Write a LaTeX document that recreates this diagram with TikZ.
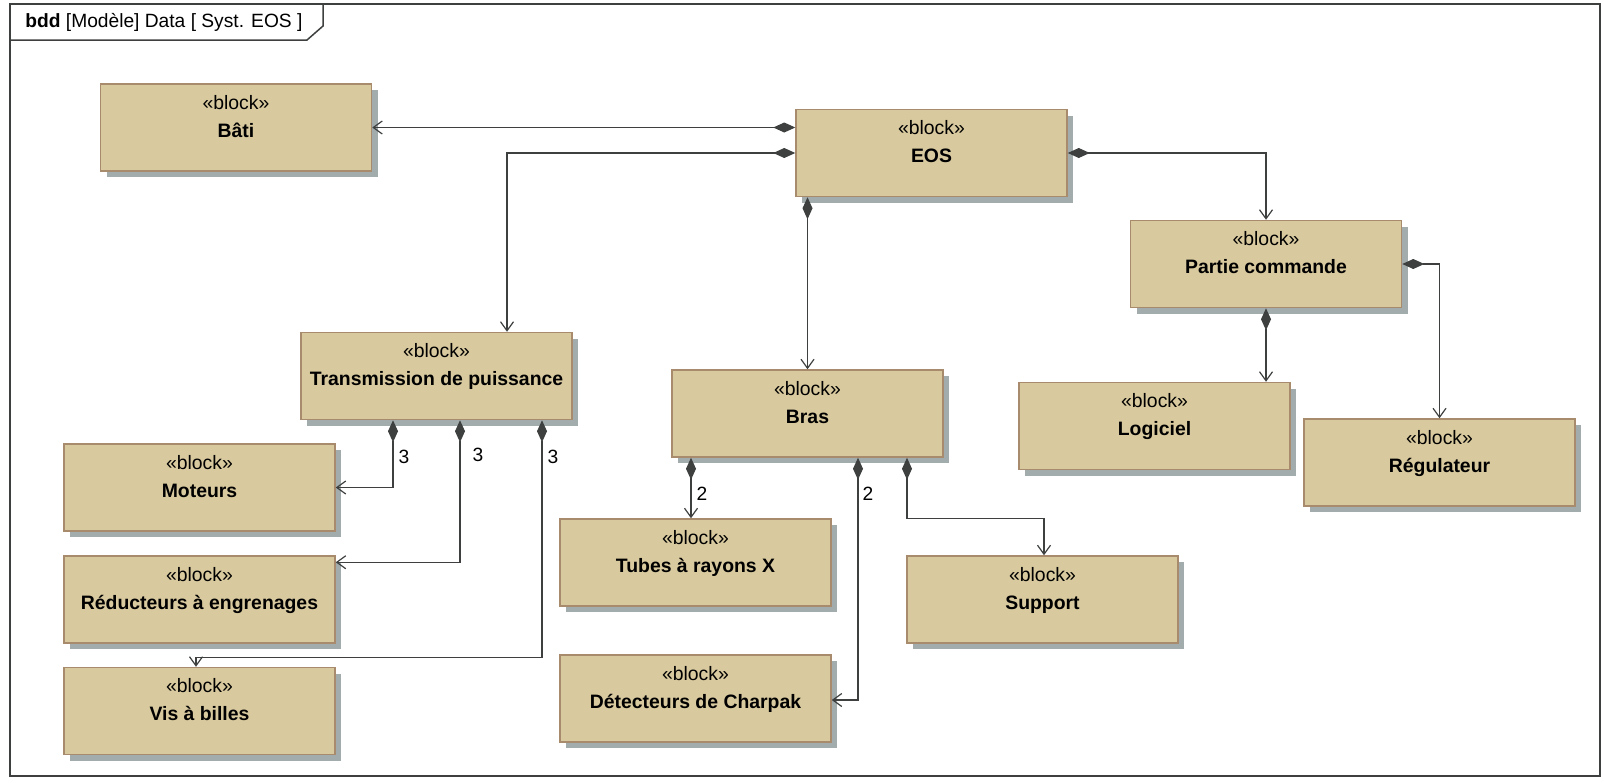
\documentclass[tikz,border=0pt]{standalone}
\usepackage{fontspec}
\setmainfont{Liberation Sans}
\usetikzlibrary{arrows.meta,calc,shadows}

\definecolor{blockfill}{RGB}{216,201,158}
\definecolor{blockline}{RGB}{168,138,108}
\definecolor{shadowgray}{RGB}{163,172,172}
\definecolor{linegray}{RGB}{62,64,64}

\newcommand{\blocktext}[1]{«block»\\\textbf{#1}\\[-2.5pt]\mbox{}}

\tikzset{
  block/.style={draw=blockline, line width=0.75pt, fill=blockfill,
    minimum width=135.5pt, minimum height=43.5pt, inner sep=0pt, align=center,
    font=\fontsize{9.7}{14}\selectfont,
    general shadow={fill=shadowgray, shadow xshift=3pt, shadow yshift=-3pt}},
  comp/.style={draw=linegray, line width=0.6pt,
    {Diamond[length=11pt,width=5pt]}-{Straight Barb[length=4.5pt,width=6.5pt]}},
  mult/.style={font=\fontsize{9.6}{11}\selectfont, inner sep=0pt},
}

\begin{document}
\begin{tikzpicture}[x=0.5pt, y=-0.5pt]
\useasboundingbox (0,0) rectangle (1604,782);

% frame
\draw[linegray, line width=0.75pt] (10,4) rectangle (1600,776);
\draw[linegray, line width=0.75pt] (10,40) -- (307,40) -- (323,26) -- (323,4);
\node[anchor=west, inner sep=0pt, font=\fontsize{9.6}{11}\selectfont] (title) at (25,22)
  {\textbf{bdd}\ [Modèle] Data [ Syst. EOS ]};

% blocks
\node[block] (bati) at (236,127.5) {\blocktext{Bâti}};
\node[block] (eos) at (931.5,153) {\blocktext{EOS}};
\node[block] (partie) at (1266,264) {\blocktext{Partie commande}};
\node[block] (trans) at (436.5,376) {\blocktext{Transmission de puissance}};
\node[block] (bras) at (807.5,413.5) {\blocktext{Bras}};
\node[block] (logiciel) at (1154.5,426) {\blocktext{Logiciel}};
\node[block] (regul) at (1439.5,462.5) {\blocktext{Régulateur}};
\node[block] (moteurs) at (199.5,487.5) {\blocktext{Moteurs}};
\node[block] (reduc) at (199.5,599.5) {\blocktext{Réducteurs à engrenages}};
\node[block] (vis) at (199.5,711) {\blocktext{Vis à billes}};
\node[block] (tubes) at (695.5,562.5) {\blocktext{Tubes à rayons X}};
\node[block] (detect) at (695.5,698.5) {\blocktext{Détecteurs de Charpak}};
\node[block] (support) at (1042.5,599.5) {\blocktext{Support}};

% EOS
\draw[comp] (eos.west |- bati.east) -- (bati.east);
\draw[comp] (eos.west) -| ($(trans.north)+(70.5,0)$);
\draw[comp] (eos.east) -| (partie.north);
\draw[comp] (eos.south -| bras.north) -- (bras.north);

% Partie commande
\draw[comp] (partie.south) -- (partie.south |- logiciel.north);
\draw[comp] (partie.east) -| (regul.north);

% Transmission de puissance
\coordinate (t1) at ($(trans.south)+(-43.5,0)$);
\coordinate (t2) at ($(trans.south)+(23.5,0)$);
\coordinate (t3) at ($(trans.south)+(105.5,0)$);
\draw[comp] (t1) |- (moteurs.east);
\draw[comp] (t2) |- ($(reduc.north east)+(0,7)$);
\draw[comp] (t3) |- ($(vis.north)+(-3.5,-9)$) -- ($(vis.north)+(-3.5,0)$);
\node[mult] (m1) at (404,457) {3};
\node[mult] (m2) at (478,455) {3};
\node[mult] (m3) at (553,457) {3};

% Bras
\coordinate (b1) at ($(bras.south)+(-116.5,0)$);
\coordinate (b2) at ($(bras.south)+(50.5,0)$);
\coordinate (b3) at ($(bras.south)+(99.5,0)$);
\draw[comp] (b1) -- (b1 |- tubes.north);
\draw[comp] (b2) |- ($(detect.east)+(0,1.5)$);
\draw[comp] (b3) |- ($(support.north)+(1.5,-37)$) -- ($(support.north)+(1.5,0)$);
\node[mult] (m4) at (702,494) {2};
\node[mult] (m5) at (868,494) {2};

\end{tikzpicture}
\end{document}
